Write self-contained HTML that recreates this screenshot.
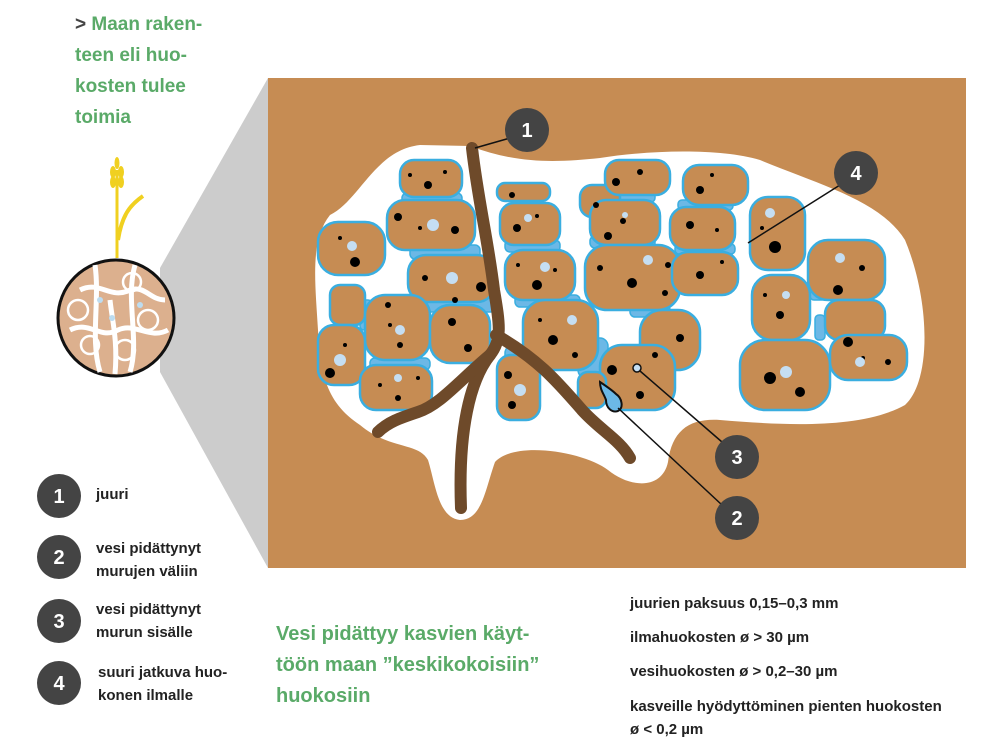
<!DOCTYPE html>
<html><head><meta charset="utf-8"><style>
body{margin:0;background:#fff;width:1000px;height:755px;overflow:hidden;font-family:"Liberation Sans",sans-serif}
svg{position:absolute;left:0;top:0}
.g{fill:#5aaa68;font-weight:bold;font-size:20px}
.g2{fill:#5aaa68;font-weight:bold;font-size:19px}
.t{fill:#222;font-weight:bold;font-size:15px}
.l{fill:#222;font-weight:bold;font-size:15px}
.n{fill:#fff;font-weight:bold;font-size:20px;text-anchor:middle}
.a{fill:#c68c53;stroke:#3aaee0;stroke-width:2.5}
.w{fill:#6cb8e6;stroke:#3aaee0;stroke-width:1.5}
</style></head><body>
<svg width="1000" height="755" viewBox="0 0 1000 755">
<text x="75" y="30" class="g2"><tspan fill="#444">&gt;</tspan> Maan raken-</text>
<text x="75" y="61" class="g2">teen eli huo-</text>
<text x="75" y="92" class="g2">kosten tulee</text>
<text x="75" y="123" class="g2">toimia</text>
<polygon points="160,268 268,78 268,568 160,372" fill="#cccccc"/>
<rect x="268" y="78" width="698" height="490" fill="#c68c53"/>
<path d="M117 258 L117 170" stroke="#f0d020" stroke-width="3" fill="none"/>
<path d="M118 240 C122 215 130 205 143 196" stroke="#f0d020" stroke-width="4" fill="none"/>
<g fill="#f0d020"><ellipse cx="113" cy="172" rx="3" ry="6"/><ellipse cx="121" cy="172" rx="3" ry="6"/><ellipse cx="113" cy="182" rx="3" ry="6"/><ellipse cx="121" cy="182" rx="3" ry="6"/><ellipse cx="117" cy="163" rx="2.5" ry="6"/></g>
<circle cx="116" cy="318" r="58" fill="#dcb08e" stroke="#111" stroke-width="3"/>
<g fill="none" stroke="#fff" stroke-width="5">
<path d="M80 290 C100 280 110 300 130 290 C145 285 150 300 165 300"/>
<path d="M70 330 C90 320 100 340 118 330 C135 322 150 340 168 330"/>
<path d="M95 265 C100 300 90 340 100 372"/><path d="M135 265 C125 300 140 340 130 372"/>
<path d="M110 300 C112 320 118 340 115 374"/>
</g>
<g fill="none" stroke="#fff" stroke-width="2.5"><circle cx="78" cy="310" r="10"/><circle cx="90" cy="345" r="9"/><circle cx="148" cy="320" r="10"/><circle cx="125" cy="350" r="10"/><circle cx="132" cy="282" r="9"/></g>
<g fill="#bcdcf0"><circle cx="100" cy="300" r="3"/><circle cx="112" cy="318" r="3"/><circle cx="140" cy="305" r="3"/></g>
<path fill="#fff" d="M330 215 C360 200 375 150 420 145 L470 146 C520 165 560 162 600 158 C650 150 720 148 760 160 C820 185 880 200 905 240 C930 300 932 380 905 405 C860 430 780 425 720 420 C690 418 672 430 668 462 C662 490 630 488 608 470 C585 452 515 440 495 462 C485 490 482 520 460 520 C438 518 435 482 428 460 C418 442 390 450 360 425 C330 405 320 380 318 330 C315 280 310 240 330 215 Z"/>
<g class="w">
<rect x="402" y="193" width="60" height="12" rx="5"/><rect x="410" y="245" width="70" height="14" rx="5"/><rect x="420" y="298" width="75" height="14" rx="5"/>
<rect x="370" y="358" width="60" height="12" rx="5"/><rect x="505" y="240" width="55" height="12" rx="5"/><rect x="515" y="295" width="65" height="12" rx="5"/>
<rect x="590" y="236" width="65" height="12" rx="5"/><rect x="610" y="192" width="45" height="10" rx="4"/><rect x="675" y="244" width="60" height="10" rx="4"/><rect x="678" y="200" width="55" height="10" rx="4"/>
<rect x="360" y="300" width="12" height="30" rx="4"/><rect x="810" y="290" width="60" height="10" rx="4"/><rect x="815" y="315" width="10" height="25" rx="4"/>
<rect x="505" y="345" width="35" height="30" rx="8"/><rect x="578" y="338" width="30" height="40" rx="8"/><rect x="630" y="305" width="40" height="12" rx="5"/>
</g>
<g class="a">
<rect x="400" y="160" width="62" height="37" rx="14"/><rect x="387" y="200" width="88" height="50" rx="18"/><rect x="318" y="222" width="67" height="53" rx="20"/>
<rect x="408" y="255" width="87" height="47" rx="18"/><rect x="330" y="285" width="35" height="40" rx="10"/><rect x="365" y="295" width="65" height="65" rx="20"/>
<rect x="318" y="325" width="47" height="60" rx="16"/><rect x="360" y="365" width="72" height="45" rx="16"/><rect x="430" y="305" width="60" height="58" rx="20"/>
<rect x="497" y="183" width="53" height="18" rx="8"/><rect x="500" y="203" width="60" height="42" rx="14"/><rect x="505" y="250" width="70" height="50" rx="18"/>
<rect x="523" y="300" width="75" height="70" rx="22"/><rect x="497" y="355" width="43" height="65" rx="14"/>
<rect x="580" y="185" width="40" height="32" rx="12"/><rect x="605" y="160" width="65" height="35" rx="14"/><rect x="590" y="200" width="70" height="45" rx="16"/>
<rect x="585" y="245" width="95" height="65" rx="22"/><rect x="640" y="310" width="60" height="60" rx="22"/><rect x="600" y="345" width="75" height="65" rx="22"/>
<rect x="578" y="372" width="28" height="36" rx="10"/>
<rect x="683" y="165" width="65" height="40" rx="16"/><rect x="670" y="207" width="65" height="43" rx="16"/><rect x="672" y="252" width="66" height="43" rx="16"/>
<rect x="750" y="197" width="55" height="73" rx="18"/><rect x="808" y="240" width="77" height="60" rx="20"/><rect x="752" y="275" width="58" height="65" rx="20"/>
<rect x="825" y="300" width="60" height="40" rx="14"/><rect x="740" y="340" width="90" height="70" rx="25"/><rect x="830" y="335" width="77" height="45" rx="18"/>
</g>
<g fill="#000">
<circle cx="428" cy="185" r="4"/><circle cx="410" cy="175" r="2"/><circle cx="445" cy="172" r="2"/><circle cx="398" cy="217" r="4"/><circle cx="455" cy="230" r="4"/><circle cx="420" cy="228" r="2"/>
<circle cx="355" cy="262" r="5"/><circle cx="340" cy="238" r="2"/><circle cx="425" cy="278" r="3"/><circle cx="481" cy="287" r="5"/><circle cx="455" cy="300" r="3"/>
<circle cx="388" cy="305" r="3"/><circle cx="400" cy="345" r="3"/><circle cx="390" cy="325" r="2"/><circle cx="452" cy="322" r="4"/><circle cx="468" cy="348" r="4"/>
<circle cx="330" cy="373" r="5"/><circle cx="345" cy="345" r="2"/><circle cx="380" cy="385" r="2"/><circle cx="398" cy="398" r="3"/><circle cx="418" cy="378" r="2"/>
<circle cx="512" cy="195" r="3"/><circle cx="517" cy="228" r="4"/><circle cx="537" cy="216" r="2"/><circle cx="537" cy="285" r="5"/><circle cx="518" cy="265" r="2"/><circle cx="555" cy="270" r="2"/>
<circle cx="553" cy="340" r="5"/><circle cx="540" cy="320" r="2"/><circle cx="575" cy="355" r="3"/><circle cx="508" cy="375" r="4"/><circle cx="512" cy="405" r="4"/>
<circle cx="596" cy="205" r="3"/><circle cx="616" cy="182" r="4"/><circle cx="640" cy="172" r="3"/><circle cx="623" cy="221" r="3"/><circle cx="608" cy="236" r="4"/>
<circle cx="632" cy="283" r="5"/><circle cx="600" cy="268" r="3"/><circle cx="668" cy="265" r="3"/><circle cx="665" cy="293" r="3"/><circle cx="680" cy="338" r="4"/><circle cx="612" cy="370" r="5"/><circle cx="640" cy="395" r="4"/><circle cx="655" cy="355" r="3"/>
<circle cx="700" cy="190" r="4"/><circle cx="712" cy="175" r="2"/><circle cx="690" cy="225" r="4"/><circle cx="717" cy="230" r="2"/><circle cx="700" cy="275" r="4"/><circle cx="722" cy="262" r="2"/>
<circle cx="775" cy="247" r="6"/><circle cx="762" cy="228" r="2"/><circle cx="838" cy="290" r="5"/><circle cx="862" cy="268" r="3"/><circle cx="780" cy="315" r="4"/><circle cx="765" cy="295" r="2"/>
<circle cx="848" cy="342" r="5"/><circle cx="770" cy="378" r="6"/><circle cx="800" cy="392" r="5"/><circle cx="888" cy="362" r="3"/><circle cx="863" cy="358" r="2"/>
</g>
<g fill="#c5def2">
<circle cx="433" cy="225" r="6"/><circle cx="352" cy="246" r="5"/><circle cx="452" cy="278" r="6"/><circle cx="400" cy="330" r="5"/><circle cx="340" cy="360" r="6"/><circle cx="398" cy="378" r="4"/>
<circle cx="528" cy="218" r="4"/><circle cx="545" cy="267" r="5"/><circle cx="572" cy="320" r="5"/><circle cx="520" cy="390" r="6"/><circle cx="625" cy="215" r="3"/>
<circle cx="648" cy="260" r="5"/><circle cx="770" cy="213" r="5"/><circle cx="840" cy="258" r="5"/><circle cx="786" cy="295" r="4"/><circle cx="786" cy="372" r="6"/><circle cx="860" cy="362" r="5"/>
</g>
<g stroke="#6e4a2a" stroke-width="12" fill="none" stroke-linecap="round">
<path d="M472 148 C478 200 488 240 494 290 C500 325 502 340 490 355 C470 380 458 430 461 508"/>
<path d="M490 355 C460 380 440 405 418 412 C400 418 388 422 378 432"/>
<path d="M496 335 C540 360 560 385 582 410 C600 430 620 440 630 458"/>
</g>
<path d="M600 382 C606 386 612 390 616 394 C622 398 624 408 618 411 C612 413 606 408 606 400 C604 394 600 390 600 382 Z" fill="#6cb8e6" stroke="#111" stroke-width="2"/>
<circle cx="637" cy="368" r="4" fill="#c5def2" stroke="#111" stroke-width="1.5"/>
<g stroke="#111" stroke-width="1.5">
<line x1="475" y1="148" x2="510" y2="138"/><line x1="748" y1="243" x2="840" y2="185"/><line x1="640" y1="371" x2="722" y2="442"/><line x1="618" y1="408" x2="722" y2="505"/>
</g>
<g fill="#444">
<circle cx="527" cy="130" r="22"/><circle cx="856" cy="173" r="22"/><circle cx="737" cy="457" r="22"/><circle cx="737" cy="518" r="22"/>
<circle cx="59" cy="496" r="22"/><circle cx="59" cy="557" r="22"/><circle cx="59" cy="621" r="22"/><circle cx="59" cy="683" r="22"/>
</g>
<text x="527" y="137" class="n">1</text><text x="856" y="180" class="n">4</text><text x="737" y="464" class="n">3</text><text x="737" y="525" class="n">2</text>
<text x="59" y="503" class="n">1</text><text x="59" y="564" class="n">2</text><text x="59" y="628" class="n">3</text><text x="59" y="690" class="n">4</text>
<text x="96" y="499" class="l">juuri</text>
<text x="96" y="553" class="l">vesi pidättynyt</text><text x="96" y="576" class="l">murujen väliin</text>
<text x="96" y="614" class="l">vesi pidättynyt</text><text x="96" y="637" class="l">murun sisälle</text>
<text x="98" y="677" class="l">suuri jatkuva huo-</text><text x="98" y="700" class="l">konen ilmalle</text>
<text x="276" y="640" class="g">Vesi pidättyy kasvien käyt-</text>
<text x="276" y="671" class="g">töön maan ”keskikokoisiin”</text>
<text x="276" y="702" class="g">huokosiin</text>
<text x="630" y="608" class="t">juurien paksuus 0,15–0,3 mm</text>
<text x="630" y="642" class="t">ilmahuokosten ø &gt; 30 µm</text>
<text x="630" y="676" class="t">vesihuokosten ø &gt; 0,2–30 µm</text>
<text x="630" y="711" class="t">kasveille hyödyttöminen pienten huokosten</text>
<text x="630" y="734" class="t">ø &lt; 0,2 µm</text>
</svg>
</body></html>
